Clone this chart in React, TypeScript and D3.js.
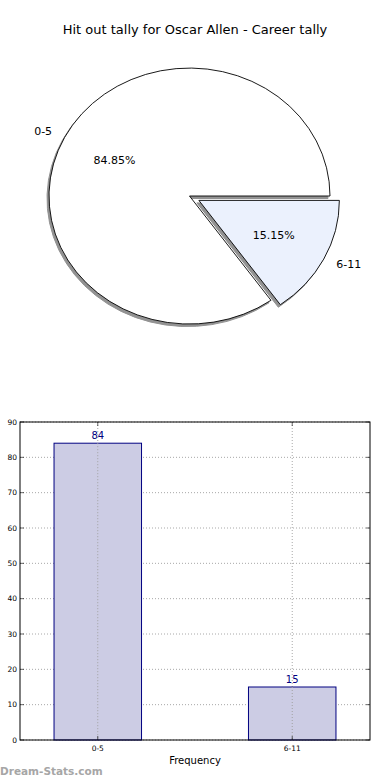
import React from 'react';
import * as d3 from 'd3';

// Tally data
const categories = ['0-5', '6-11'];
const counts = [84, 15];
const yTicks = [0, 10, 20, 30, 40, 50, 60, 70, 80, 90];
const sliceColors = ['#ffffff', '#ebf1fd'];
const explodes = [0, 0.075];

const W = 390;
const H = 780;
const FONT = 'DejaVu Sans, sans-serif';

const App = () => {
  // Pie layout: start at 3 o'clock and go counter-clockwise (matplotlib style)
  const cx = 189.5;
  const cy = 196;
  const rx = 140.5;
  const ry = 128;
  const total = d3.sum(counts);

  const pie = d3.pie<number>()
    .sort(null)
    .startAngle(Math.PI / 2)
    .endAngle(Math.PI / 2 - 2 * Math.PI);
  const arcs = pie(counts);
  const arc = d3.arc<d3.PieArcDatum<number>>().innerRadius(0).outerRadius(1);

  const slices = arcs.map((a, i) => {
    const mid = (a.startAngle + a.endAngle) / 2;
    // d3 angle -> unit direction in screen space
    const ux = Math.sin(mid);
    const uy = -Math.cos(mid);
    const ox = cx + explodes[i] * ux * rx;
    const oy = cy + explodes[i] * uy * ry;
    return {
      a,
      ox,
      oy,
      label: { x: ox + 1.1 * ux * rx, y: oy + 1.1 * uy * ry, anchor: ux < 0 ? 'end' : 'start' },
      pct: { x: ox + 0.6 * ux * rx, y: oy + 0.6 * uy * ry },
      text: `${((counts[i] / total) * 100).toFixed(2)}%`,
    };
  });

  // Bar chart scales
  const plot = { left: 20, right: 370, top: 422, bottom: 740 };
  const x = d3.scaleLinear().domain([-0.4, 1.4]).range([plot.left, plot.right]);
  const y = d3.scaleLinear().domain([0, 90]).range([plot.bottom, plot.top]);
  const barW = 0.45;

  return (
    <div style={{ position: 'fixed', left: 0, top: 0, width: W, height: H, background: '#fff' }}>
      <svg width={W} height={H} style={{ display: 'block' }} fontFamily={FONT}>
        <rect width={W} height={H} fill="#fff" />
        <text x={195} y={34} textAnchor="middle" fontSize={13} fill="#000">
          Hit out tally for Oscar Allen - Career tally
        </text>

        {/* shadows */}
        {slices.map((s, i) => (
          <path
            key={`sh${i}`}
            d={arc(s.a) || ''}
            transform={`translate(${s.ox - 2},${s.oy + 2.5}) scale(${rx},${ry})`}
            fill="#929292"
            stroke="#929292"
            strokeWidth={1}
            vectorEffect="non-scaling-stroke"
          />
        ))}
        {slices.map((s, i) => (
          <path
            key={`sl${i}`}
            d={arc(s.a) || ''}
            transform={`translate(${s.ox},${s.oy}) scale(${rx},${ry})`}
            fill={sliceColors[i]}
            stroke="#000"
            strokeWidth={0.9}
            strokeLinejoin="miter"
            vectorEffect="non-scaling-stroke"
          />
        ))}
        {slices.map((s, i) => (
          <g key={`lb${i}`} fontSize={11} fill="#000">
            <text x={s.label.x} y={s.label.y} textAnchor={s.label.anchor} dominantBaseline="central">
              {categories[i]}
            </text>
            <text x={s.pct.x} y={s.pct.y} textAnchor="middle" dominantBaseline="central">
              {s.text}
            </text>
          </g>
        ))}

        {/* bar chart grid */}
        <g stroke="#a8a8a8" strokeWidth={1} strokeDasharray="1,2">
          {yTicks.map((t) => (
            <line key={`gy${t}`} x1={plot.left} x2={plot.right} y1={y(t)} y2={y(t)} />
          ))}
          {categories.map((c, i) => (
            <line key={`gx${c}`} x1={x(i)} x2={x(i)} y1={plot.top} y2={plot.bottom} />
          ))}
        </g>

        {/* bars */}
        {counts.map((v, i) => (
          <g key={`bar${i}`}>
            <rect
              x={x(i - barW / 2)}
              y={y(v)}
              width={x(barW) - x(0)}
              height={y(0) - y(v)}
              fill="#ccccE4"
              stroke="#000080"
              strokeWidth={1}
            />
            <text x={x(i)} y={y(v) - 4} textAnchor="middle" fontSize={10} fill="#000080">
              {v}
            </text>
          </g>
        ))}

        {/* regrid over bars */}
        <g stroke="#a0a0a0" strokeWidth={1} strokeDasharray="1,2">
          {categories.map((c, i) => (
            <line key={`gx2${c}`} x1={x(i)} x2={x(i)} y1={y(counts[i])} y2={plot.bottom} />
          ))}
        </g>

        {/* ticks */}
        <g stroke="#000" strokeWidth={0.6}>
          {yTicks.map((t) => (
            <g key={`ty${t}`}>
              <line x1={plot.left} x2={plot.left + 4} y1={y(t)} y2={y(t)} />
              <line x1={plot.right - 4} x2={plot.right} y1={y(t)} y2={y(t)} />
            </g>
          ))}
          {categories.map((c, i) => (
            <g key={`tx${c}`}>
              <line x1={x(i)} x2={x(i)} y1={plot.bottom} y2={plot.bottom - 4} />
              <line x1={x(i)} x2={x(i)} y1={plot.top} y2={plot.top + 4} />
            </g>
          ))}
        </g>

        <rect
          x={plot.left}
          y={plot.top}
          width={plot.right - plot.left}
          height={plot.bottom - plot.top}
          fill="none"
          stroke="#000"
          strokeWidth={1}
        />

        {yTicks.map((t) => (
          <text key={`ly${t}`} x={plot.left - 3} y={y(t)} textAnchor="end" dominantBaseline="central" fontSize={7.5} fill="#000">
            {t}
          </text>
        ))}
        {categories.map((c, i) => (
          <text key={`lx${c}`} x={x(i)} y={plot.bottom + 11} textAnchor="middle" fontSize={7.5} fill="#000">
            {c}
          </text>
        ))}

        <text x={195} y={764} textAnchor="middle" fontSize={10} fill="#000">
          Frequency
        </text>
        <text x={0} y={775} fontSize={10.5} fontWeight="bold" fill="#a6a6a6">
          Dream-Stats.com
        </text>
      </svg>
    </div>
  );
};

export default App;
